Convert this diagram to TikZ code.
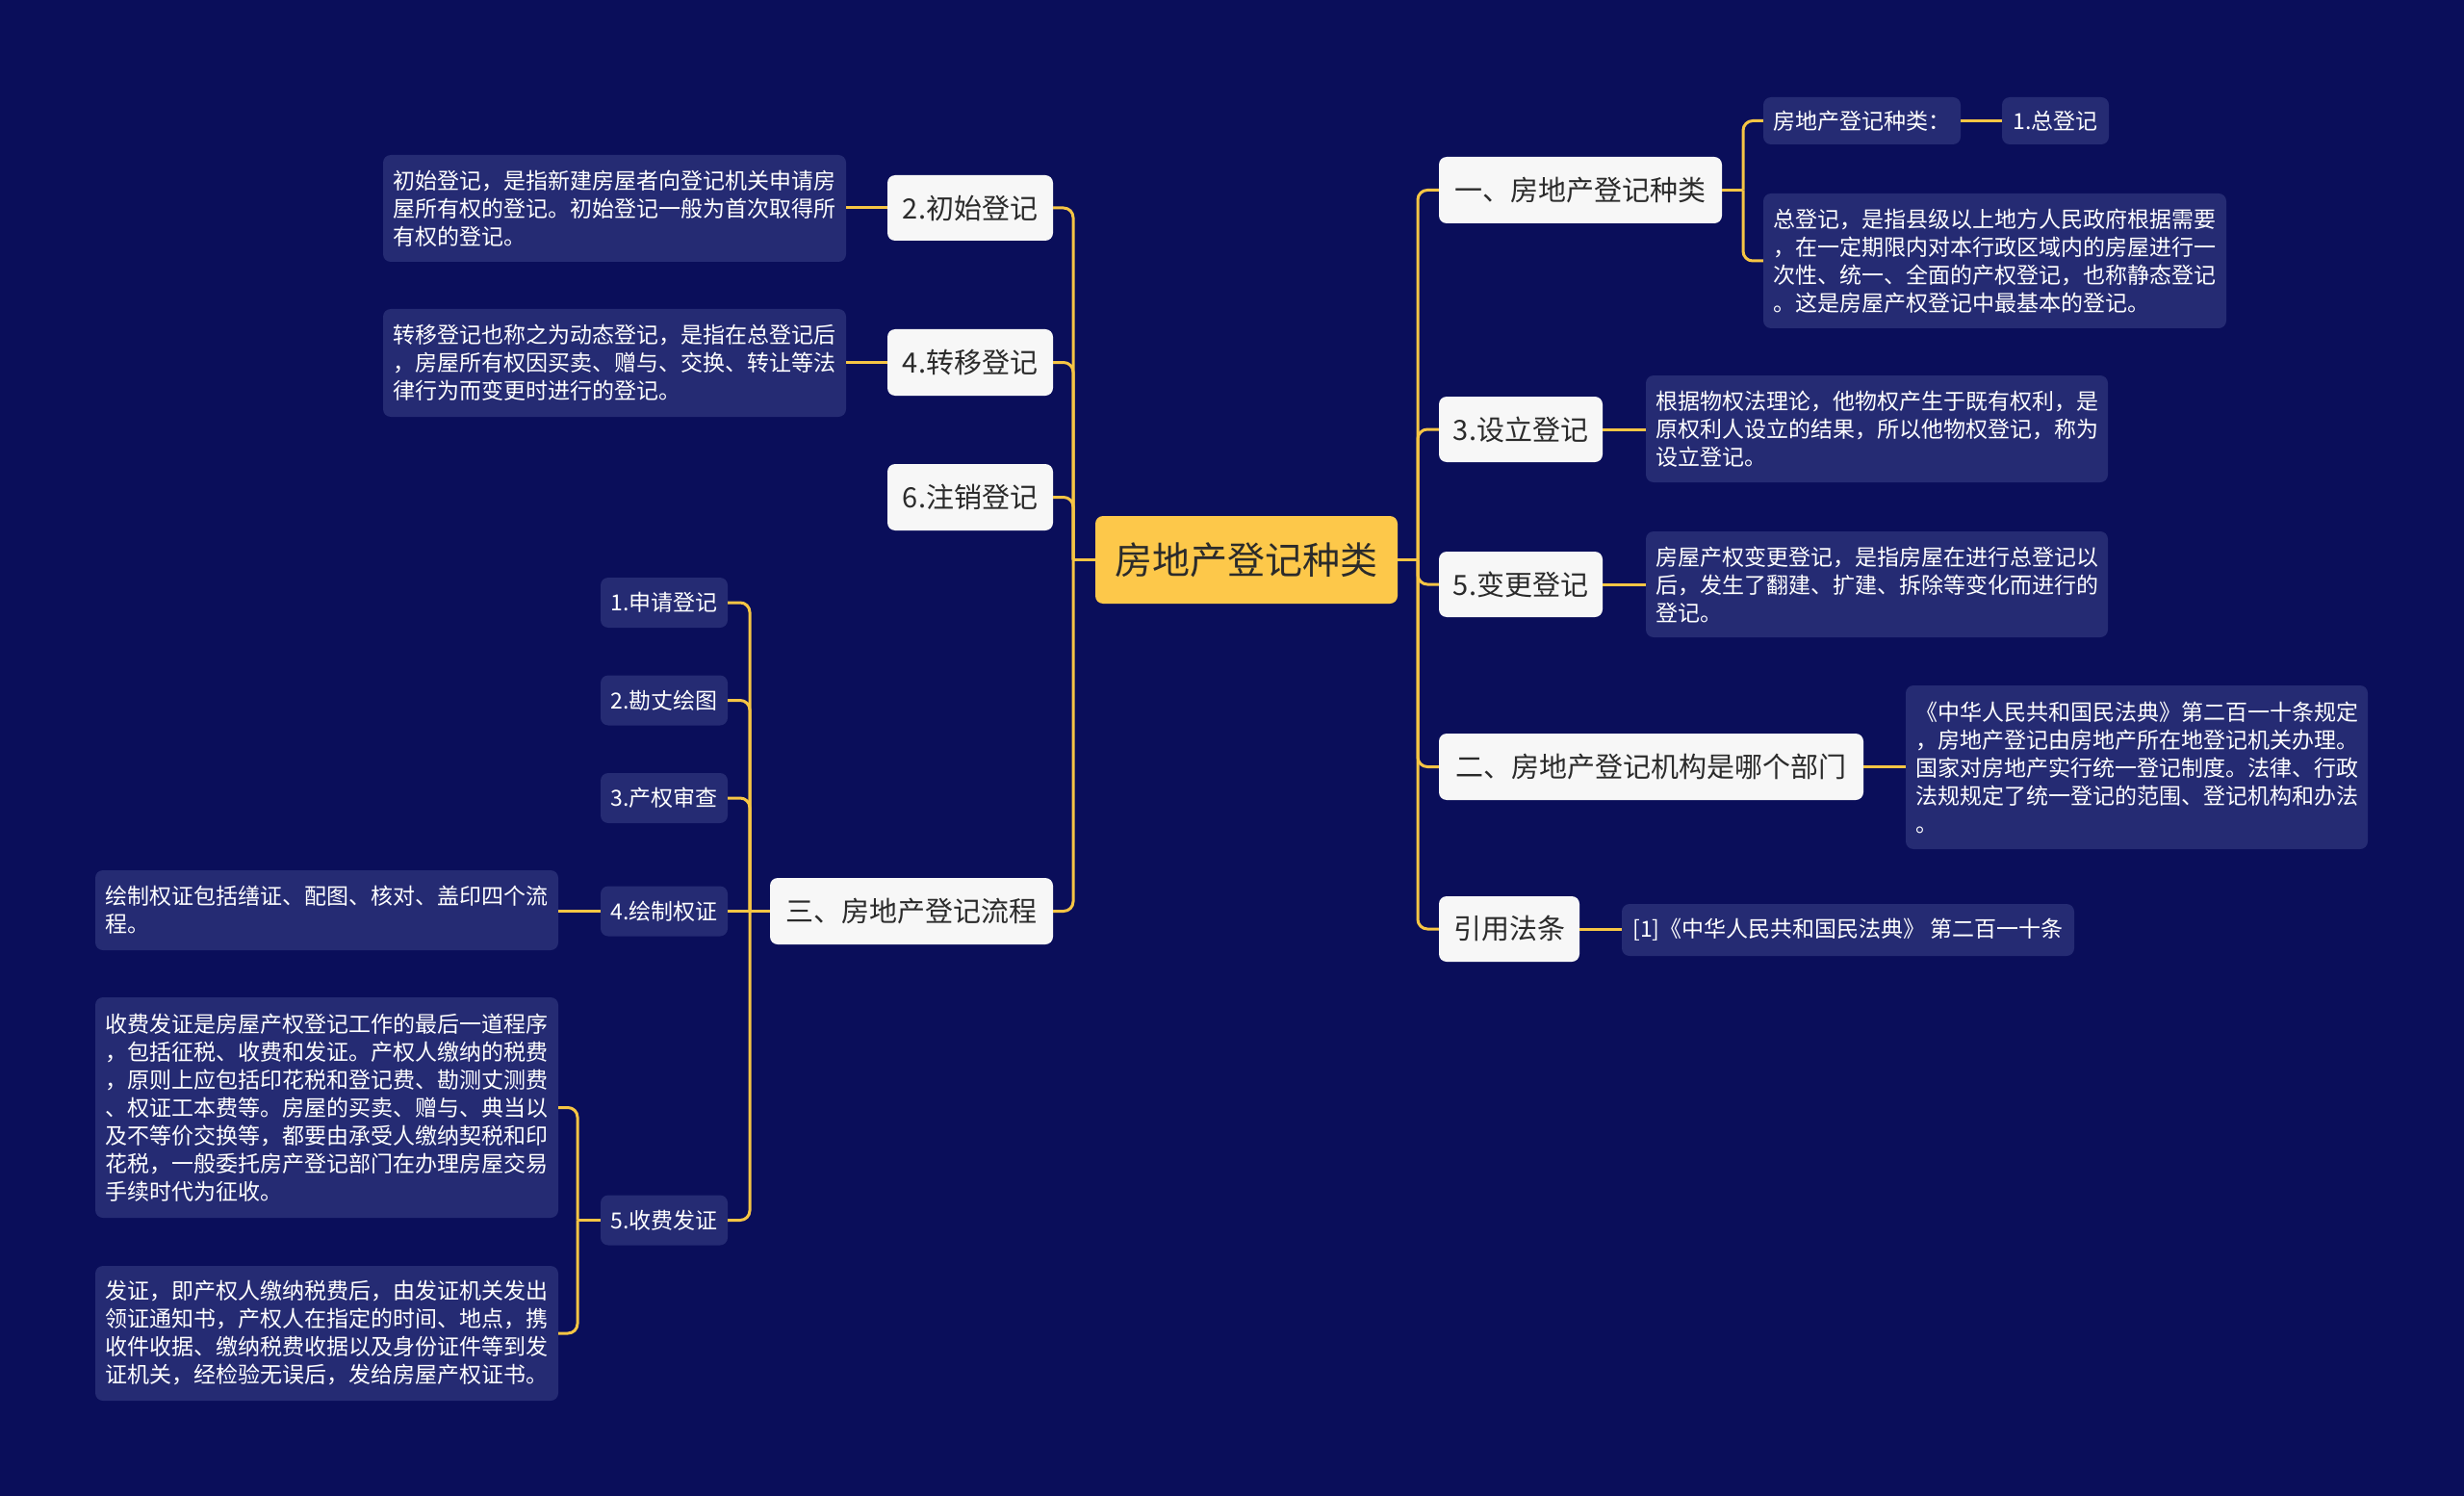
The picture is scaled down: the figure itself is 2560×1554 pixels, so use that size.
\documentclass[tikz,border=0pt]{standalone}
\usepackage{fontspec}
\setmainfont{Noto Sans CJK SC}
\definecolor{bgc}{HTML}{0A0E5A}
\definecolor{leafc}{HTML}{252B73}
\definecolor{linec}{HTML}{F6C544}
\definecolor{rootc}{HTML}{FDC84A}
\definecolor{boxc}{HTML}{F7F7F7}
\definecolor{txtc}{HTML}{2B2B2B}
\begin{document}
\begin{tikzpicture}[x=1pt,y=-1pt,
 sz/.style 2 args={minimum width=#1pt, minimum height=#2pt},
 rootbox/.style={fill=rootc, rounded corners=8pt, text=txtc, font=\fontsize{39}{46}\selectfont, inner sep=0pt},
 wbox/.style={fill=boxc, rounded corners=8pt, text=txtc, font=\fontsize{29}{35}\selectfont, inner sep=0pt},
 dbox/.style={fill=leafc, rounded corners=8pt, text=white, font=\fontsize{23}{29}\selectfont, inner sep=0pt, align=left},
 conn/.style={draw=linec, line width=3pt, rounded corners=10pt},
]
\path[use as bounding box, fill=bgc] (0,0) rectangle (2560,1554);

% root
\node[rootbox, sz={314}{91}] (root) at (1295,581.5) {房地产登记种类};

% right level 1
\node[wbox, sz={294}{69}] (r1) at (1642,197.5) {一、房地产登记种类};
\node[wbox, sz={170}{68}] (r2) at (1580,446) {3.设立登记};
\node[wbox, sz={170}{68}] (r3) at (1580,607) {5.变更登记};
\node[wbox, sz={441}{69}] (r4) at (1715.5,796.5) {二、房地产登记机构是哪个部门};
\node[wbox, sz={146}{68}] (r5) at (1568,965) {引用法条};

% right leaves
\node[dbox, sz={205}{49}] (a1) at (1934.5,125.5) {房地产登记种类：};
\node[dbox, sz={111}{49}] (a2) at (2135.5,125.5) {1.总登记};
\node[dbox, sz={481}{140}] (a3) at (2072.5,271) {总登记，是指县级以上地方人民政府根据需要\\，在一定期限内对本行政区域内的房屋进行一\\次性、统一、全面的产权登记，也称静态登记\\。这是房屋产权登记中最基本的登记。};
\node[dbox, sz={480}{111}] (b1) at (1950,445.5) {根据物权法理论，他物权产生于既有权利，是\\原权利人设立的结果，所以他物权登记，称为\\设立登记。};
\node[dbox, sz={480}{110}] (c1) at (1950,607) {房屋产权变更登记，是指房屋在进行总登记以\\后，发生了翻建、扩建、拆除等变化而进行的\\登记。};
\node[dbox, sz={480}{170}] (d1) at (2220,797) {《中华人民共和国民法典》第二百一十条规定\\，房地产登记由房地产所在地登记机关办理。\\国家对房地产实行统一登记制度。法律、行政\\法规规定了统一登记的范围、登记机构和办法\\。};
\node[dbox, sz={470}{54}] (e1) at (1920,966) {[1]《中华人民共和国民法典》 第二百一十条};

% left level 1
\node[wbox, sz={172}{68}] (l1) at (1008,216) {2.初始登记};
\node[wbox, sz={172}{69}] (l2) at (1008,376.5) {4.转移登记};
\node[wbox, sz={172}{69}] (l3) at (1008,516.5) {6.注销登记};
\node[wbox, sz={294}{69}] (l4) at (947,946.5) {三、房地产登记流程};

% left leaves
\node[dbox, sz={481}{111}] (f1) at (638.5,216.5) {初始登记，是指新建房屋者向登记机关申请房\\屋所有权的登记。初始登记一般为首次取得所\\有权的登记。};
\node[dbox, sz={481}{112}] (g1) at (638.5,377) {转移登记也称之为动态登记，是指在总登记后\\，房屋所有权因买卖、赠与、交换、转让等法\\律行为而变更时进行的登记。};

\node[dbox, sz={132}{52}] (h1) at (690,626) {1.申请登记};
\node[dbox, sz={132}{52}] (h2) at (690,727.5) {2.勘丈绘图};
\node[dbox, sz={132}{52}] (h3) at (690,829) {3.产权审查};
\node[dbox, sz={132}{52}] (h4) at (690,946.5) {4.绘制权证};
\node[dbox, sz={132}{52}] (h5) at (690,1267.5) {5.收费发证};

\node[dbox, sz={481}{83}] (i1) at (339.5,945.5) {绘制权证包括缮证、配图、核对、盖印四个流\\程。};
\node[dbox, sz={481}{229}] (j1) at (339.5,1150.5) {收费发证是房屋产权登记工作的最后一道程序\\，包括征税、收费和发证。产权人缴纳的税费\\，原则上应包括印花税和登记费、勘测丈测费\\、权证工本费等。房屋的买卖、赠与、典当以\\及不等价交换等，都要由承受人缴纳契税和印\\花税，一般委托房产登记部门在办理房屋交易\\手续时代为征收。};
\node[dbox, sz={481}{140}] (j2) at (339.5,1385) {发证，即产权人缴纳税费后，由发证机关发出\\领证通知书，产权人在指定的时间、地点，携\\收件收据、缴纳税费收据以及身份证件等到发\\证机关，经检验无误后，发给房屋产权证书。};

% connectors
\coordinate (rj) at (1473,581.5);
\coordinate (lj) at (1115,581.5);
\draw[conn] (root.east) -- (rj);
\foreach \n in {r1,r2,r3,r4,r5} \draw[conn] (rj) |- (\n.west);
\draw[conn] (root.west) -- (lj);
\foreach \n in {l1,l2,l3,l4} \draw[conn] (lj) |- (\n.east);

\coordinate (r1j) at (1811,197.5);
\draw[conn] (r1.east) -- (r1j);
\draw[conn] (r1j) |- (a1.west);
\draw[conn] (r1j) |- (a3.west);
\draw[conn] (a1.east) -- (a2.west);
\draw[conn] (r2.east) -- (r2.east -| b1.west);
\draw[conn] (r3.east) -- (r3.east -| c1.west);
\draw[conn] (r4.east) -- (r4.east -| d1.west);
\draw[conn] (r5.east) -- (r5.east -| e1.west);

\draw[conn] (l1.west) -- (l1.west -| f1.east);
\draw[conn] (l2.west) -- (l2.west -| g1.east);

\coordinate (l4j) at (779,946.5);
\draw[conn] (l4.west) -- (l4j);
\foreach \n in {h1,h2,h3,h5} \draw[conn] (l4j) |- (\n.east);
\draw[conn] (l4j) -- (h4.east);
\draw[conn] (h4.west) -- (h4.west -| i1.east);

\coordinate (h5j) at (600,1267.5);
\draw[conn] (h5.west) -- (h5j);
\draw[conn] (h5j) |- (j1.east);
\draw[conn] (h5j) |- (j2.east);
\end{tikzpicture}
\end{document}
